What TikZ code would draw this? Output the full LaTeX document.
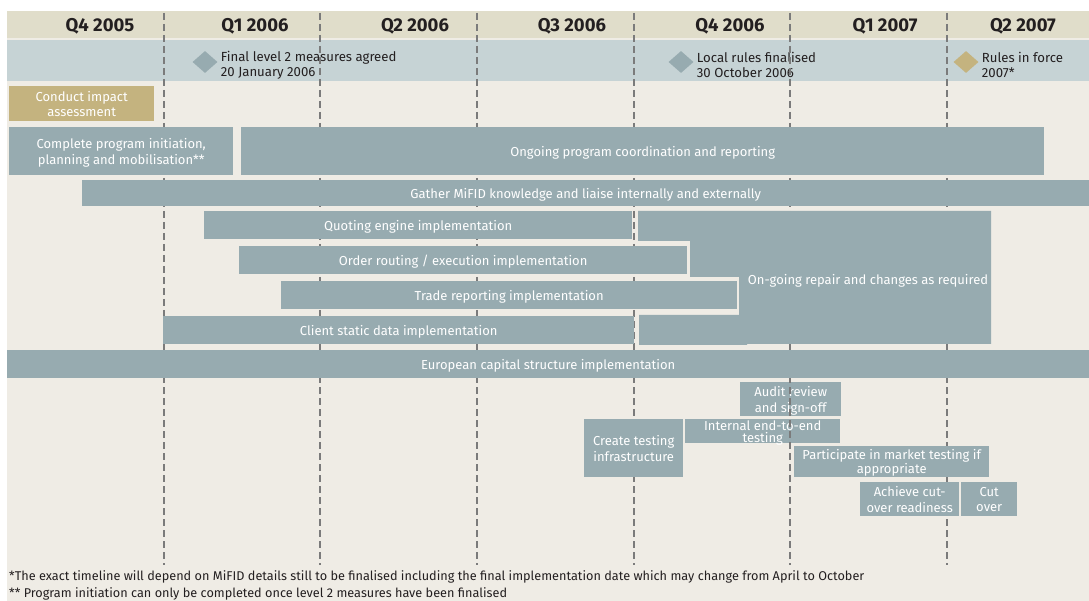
\documentclass[tikz,border=0pt]{standalone}
\usepackage{fontspec}
\setmainfont{Fira Sans}
\usetikzlibrary{shapes.geometric,positioning}
\definecolor{panel}{HTML}{EFECE5}
\definecolor{headband}{HTML}{E0DDCA}
\definecolor{mileband}{HTML}{C6D3D5}
\definecolor{barblue}{HTML}{97ABB0}
\definecolor{bargold}{HTML}{C4B37F}
\definecolor{dashgray}{HTML}{7B7B7B}
\definecolor{inkdark}{HTML}{231F20}

\begin{document}
\begin{tikzpicture}[x=1pt,y=-1pt,
  font=\fontsize{13}{15.5}\selectfont,
  bar/.style={fill=barblue,text=white,anchor=north west,inner sep=0pt,align=center,text depth=-2pt},
  goldbar/.style={bar,fill=bargold},
  quarter/.style={font=\fontsize{18.5}{20}\selectfont\bfseries,text=inkdark},
  mile/.style={diamond,fill=barblue,inner sep=0pt,minimum width=25pt,minimum height=22pt},
  miletext/.style={anchor=west,align=left,text=inkdark,inner sep=0pt,yshift=-3pt,font=\fontsize{13.2}{15}\selectfont},
  qline/.style={dashgray,line width=2.6pt,dash pattern=on 7pt off 4pt},
  note/.style={anchor=west,text=inkdark,inner sep=0pt,font=\fontsize{12.7}{14}\selectfont},
]
\useasboundingbox (0,0) rectangle (1089,601);
\fill[panel] (7,11) rectangle (1089,601);
\fill[headband] (7,11) rectangle (1089,38);
\fill[mileband] (7,40) rectangle (1089,81);

% quarters
\node[quarter] (q405) at (100,26) {Q4 2005};
\node[quarter] (q106) at (255,26) {Q1 2006};
\node[quarter] (q206) at (415,26) {Q2 2006};
\node[quarter] (q306) at (572,26) {Q3 2006};
\node[quarter] (q406) at (730,26) {Q4 2006};
\node[quarter] (q107) at (885,26) {Q1 2007};
\node[quarter] (q207) at (1023,26) {Q2 2007};

% milestones
\node[mile] (m1) at (205,62) {};
\node[miletext,right=3pt of m1] (m1txt) {Final level 2 measures agreed\\20 January 2006};
\node[mile] (m2) at (681,62) {};
\node[miletext,right=3pt of m2] (m2txt) {Local rules finalised\\30 October 2006};
\node[mile,fill=bargold] (m3) at (966,62) {};
\node[miletext,right=3pt of m3] (m3txt) {Rules in force\\2007*};

% testing boxes under the quarter lines
\node[bar,minimum width=101pt,minimum height=34pt] (audit) at (740,382) {Audit review\\and sign-off};
\node[bar,minimum width=155pt,minimum height=24pt,font=\fontsize{13}{12}\selectfont] (e2e) at (685,419) {Internal end-to-end\\testing};

\foreach \x in {164,320,477,634,790,947}
  \draw[qline] (\x,13) -- (\x,565);

% bars
\node[goldbar,minimum width=145pt,minimum height=35pt] (impact) at (9,86) {Conduct impact\\assessment};
\node[bar,minimum width=224pt,minimum height=48pt] (init) at (9,127) {Complete program initiation,\\planning and mobilisation**};
\node[bar,minimum width=803pt,minimum height=48pt] (coord) at (241,127) {Ongoing program coordination and reporting};
\node[bar,minimum width=1007pt,minimum height=26pt] (gather) at (82,180) {Gather MiFID knowledge and liaise internally and externally};

\fill[barblue] (638,211) -- (991,211) -- (991,344) -- (747,344) -- (747,345) -- (639,345)
  -- (639,315) -- (739,315) -- (739,277) -- (690,277) -- (690,241) -- (638,241) -- cycle;
\node[text=white,text depth=-2pt] (repair) at (868,279) {On-going repair and changes as required};

\node[bar,minimum width=428pt,minimum height=28pt] (quoting) at (204,211) {Quoting engine implementation};
\node[bar,minimum width=448pt,minimum height=28pt] (routing) at (239,246) {Order routing / execution implementation};
\node[bar,minimum width=456pt,minimum height=28pt] (trade) at (281,281) {Trade reporting implementation};
\node[bar,minimum width=471pt,minimum height=28pt] (client) at (163,316) {Client static data implementation};
\node[bar,minimum width=1082pt,minimum height=28pt] (capital) at (7,350) {European capital structure implementation};

\node[bar,minimum width=99pt,minimum height=58pt] (infra) at (584,419) {Create testing\\infrastructure};
\node[bar,minimum width=195pt,minimum height=31pt,font=\fontsize{13}{12}\selectfont] (market) at (794,446) {Participate in market testing if\\appropriate};
\node[bar,minimum width=99pt,minimum height=34pt] (ready) at (860,482) {Achieve cut-\\over readiness};
\node[bar,minimum width=56pt,minimum height=34pt] (cutover) at (961,482) {Cut\\over};

% notes
\node[note] (note1) at (9,577) {*The exact timeline will depend on MiFID details still to be finalised including the final implementation date which may change from April to October};
\node[note] (note2) at (9,594) {** Program initiation can only be completed once level 2 measures have been finalised};
\end{tikzpicture}
\end{document}
